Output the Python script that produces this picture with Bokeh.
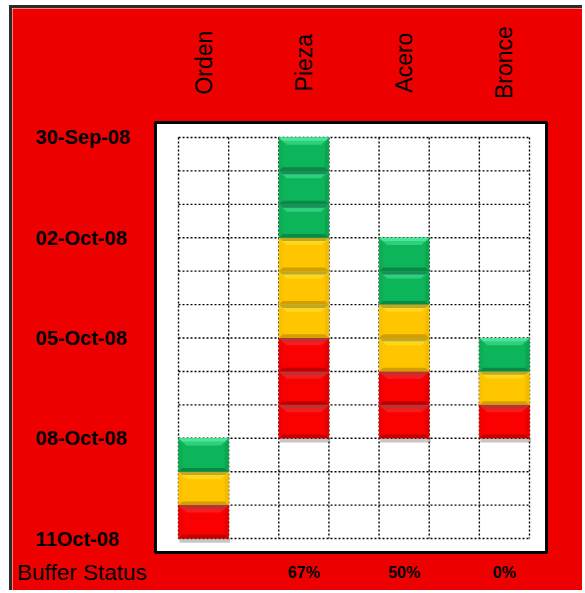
import math
from bokeh.plotting import figure
from bokeh.models import Range1d
from bokeh.core.properties import value
from bokeh.embed import file_html
from bokeh.resources import INLINE

# ---------------- data ----------------
categories = ["Orden", "Pieza", "Acero", "Bronce"]
green_blocks = [1, 3, 2, 1]
yellow_blocks = [1, 3, 2, 1]
red_blocks = [1, 3, 2, 1]
end_date = ["11Oct-08", "08-Oct-08", "08-Oct-08", "08-Oct-08"]
dates = ["30-Sep-08", "02-Oct-08", "05-Oct-08", "08-Oct-08", "11Oct-08"]
date_slots = [0, 3, 6, 9, 12]
buffer_status = ["", "67%", "50%", "0%"]
buffer_label = "Buffer Status"
n_rows = 12
n_cols = 7

FONT = "Liberation Sans"
RED_BG = "#EE0000"

palette = {
    "green": dict(center="#0DB55A", top="#2ED07E", top_hi="#4DE598", top_dark="#1A8E55",
                  side_l="#0CAD55", side_r="#0BA650", bottom="#088A45"),
    "yellow": dict(center="#FFC600", top="#FFD61C", top_hi="#FFE040", top_dark="#BFA828",
                   side_l="#F9C200", side_r="#F3BC00", bottom="#D49E00"),
    "red": dict(center="#FA0000", top="#F41C1C", top_hi="#FF3A3A", top_dark="#B83434",
                side_l="#F00000", side_r="#E80000", bottom="#C00000"),
}

# ---------------- figure (frame = whole canvas) ----------------
p = figure(width=573, height=585, output_backend="svg", toolbar_location=None,
           x_range=Range1d(-3.311, 8.117), y_range=Range1d(13.645, -3.860),
           min_border=0, margin=(5, 0, 0, 9),
           styles={"border-left": "3px solid #2a2a2a", "border-top": "3px solid #2a2a2a"})
p.axis.visible = False
p.xgrid.visible = False
p.ygrid.visible = False
p.border_fill_color = RED_BG
p.background_fill_color = RED_BG
p.outline_line_color = None

# white plot box
p.quad(left=[-0.46], right=[7.34], top=[-0.45], bottom=[12.42],
       fill_color="white", line_color="black", line_width=3)

# dotted grid (cell boundaries)
vx = list(range(n_cols + 1))
p.segment(x0=vx, y0=[0] * len(vx), x1=vx, y1=[n_rows] * len(vx),
          line_color="black", line_width=1.4, line_dash="2 2")
hy = list(range(n_rows + 1))
p.segment(x0=[0] * len(hy), y0=hy, x1=[n_cols] * len(hy), y1=hy,
          line_color="black", line_width=1.4, line_dash="2 2")

# blocks
dx, dyt, dyb = 0.08, 0.22, 0.11
shadow = dict(x0=[], x1=[], y0=[], y1=[])
base = dict(xs=[], ys=[], c=[])
bevel = dict(xs=[], ys=[], c=[])


def add(layer, xs, ys, c):
    layer["xs"].append(xs)
    layer["ys"].append(ys)
    layer["c"].append(c)


for i, cat in enumerate(categories):
    col = 2 * i
    bottom = date_slots[dates.index(end_date[i])]
    stack = ["red"] * red_blocks[i] + ["yellow"] * yellow_blocks[i] + ["green"] * green_blocks[i]
    n = len(stack)
    x0, x1 = col, col + 1
    shadow["x0"].append(x0 + 0.02); shadow["x1"].append(x1 + 0.03)
    shadow["y0"].append(bottom); shadow["y1"].append(bottom + 0.13)
    for k, cname in enumerate(stack):
        pal = palette[cname]
        y1 = bottom - k
        y0 = y1 - 1
        covered = k < n - 1
        add(base, [x0, x1, x1, x0], [y0, y0, y1, y1], pal["center"])
        # sides
        add(bevel, [x0, x0 + dx, x0 + dx, x0], [y0, y0 + dyt, y1 - dyb, y1], pal["side_l"])
        add(bevel, [x1, x1 - dx, x1 - dx, x1], [y0, y0 + dyt, y1 - dyb, y1], pal["side_r"])
        # bottom
        add(bevel, [x0, x1, x1 - dx, x0 + dx], [y1, y1, y1 - dyb, y1 - dyb], pal["bottom"])
        # top
        add(bevel, [x0, x1, x1 - 2 * dx, x0 + 2 * dx], [y0, y0, y0 + dyt, y0 + dyt], pal["top"])
        h = dyt * 0.45
        strip = pal["top_dark"] if covered else pal["top_hi"]
        add(bevel, [x0, x1, x1 - 0.9 * dx, x0 + 0.9 * dx], [y0, y0, y0 + h, y0 + h], strip)

p.quad(left=shadow["x0"], right=shadow["x1"], top=shadow["y0"], bottom=shadow["y1"],
       fill_color="#6A6A6A", fill_alpha=0.38, line_color=None)
p.patches(xs=base["xs"], ys=base["ys"], fill_color=base["c"], line_color=None)
p.patches(xs=bevel["xs"], ys=bevel["ys"], fill_color=bevel["c"], line_color=None)

# category labels (top, rotated)
p.text(x=[2 * i + 0.5 for i in range(len(categories))], y=[-2.24] * len(categories),
       text=categories, angle=math.pi / 2, text_align="center", text_baseline="middle",
       text_font=value(FONT), text_font_size="23px", text_color="black")

# date labels (left)
p.text(x=[-2.85] * len(dates), y=date_slots, text=dates, text_align="left",
       text_baseline="middle", text_font=value(FONT), text_font_size="20px",
       text_font_style="bold", text_color="black")

# buffer status
p.text(x=[2 * i + 0.5 for i in range(len(categories))], y=[13.02] * len(categories),
       text=buffer_status, text_align="center", text_baseline="middle",
       text_font=value(FONT), text_font_size="16px", text_font_style="bold",
       text_color="black")
p.text(x=[-3.22], y=[13.02], text=[buffer_label], text_align="left",
       text_baseline="middle", text_font=value(FONT), text_font_size="22.5px",
       text_color="black")

open("out.html", "w").write(file_html(p, INLINE))
